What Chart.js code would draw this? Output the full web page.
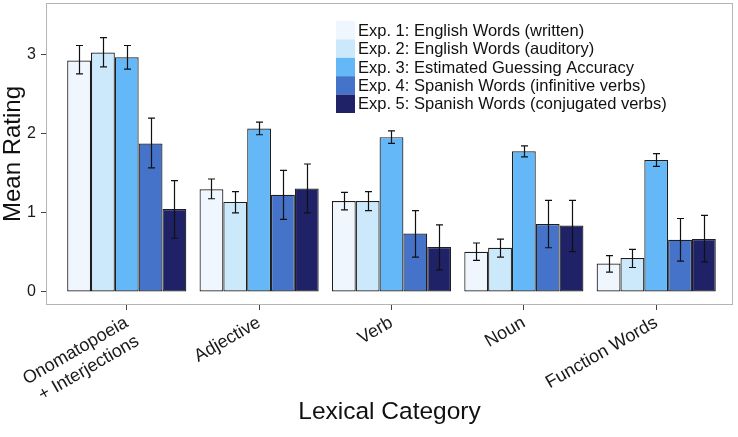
<!DOCTYPE html>
<html>
<head>
<meta charset="utf-8">
<script src="https://cdn.jsdelivr.net/npm/chart.js@4.4.0/dist/chart.umd.min.js"></script>
<style>
  html, body { margin: 0; padding: 0; background: #fff; }
  #wrap { width: 738px; height: 437px; }
</style>
</head>
<body>
<div id="wrap"><canvas id="myChart" width="738" height="437"></canvas></div>
<script>
//data

const categories = [['Onomatopoeia', '+ Interjections'], 'Adjective', 'Verb', 'Noun', 'Function Words'];
const seriesLabels = [
  'Exp. 1: English Words (written)',
  'Exp. 2: English Words (auditory)',
  'Exp. 3: Estimated Guessing Accuracy',
  'Exp. 4: Spanish Words (infinitive verbs)',
  'Exp. 5: Spanish Words (conjugated verbs)'
];
const seriesColors = ['#eff6fe', '#cce8fb', '#64b8f7', '#4473c9', '#1f2267'];

const exp1 = [2.93, 1.30, 1.15, 0.51, 0.36];
const exp1Hi = [3.12, 1.43, 1.26, 0.62, 0.46];
const exp1Lo = [2.76, 1.18, 1.04, 0.40, 0.25];

const exp2 = [3.03, 1.14, 1.15, 0.56, 0.43];
const exp2Hi = [3.22, 1.27, 1.27, 0.67, 0.54];
const exp2Lo = [2.85, 1.00, 1.03, 0.44, 0.31];

const exp3 = [2.97, 2.07, 1.96, 1.78, 1.67];
const exp3Hi = [3.12, 2.15, 2.04, 1.85, 1.75];
const exp3Lo = [2.82, 1.99, 1.88, 1.71, 1.59];

const exp4 = [1.88, 1.23, 0.74, 0.86, 0.66];
const exp4Hi = [2.20, 1.54, 1.03, 1.16, 0.93];
const exp4Lo = [1.57, 0.92, 0.44, 0.56, 0.39];

const exp5 = [1.05, 1.31, 0.57, 0.84, 0.67];
const exp5Hi = [1.41, 1.62, 0.85, 1.16, 0.97];
const exp5Lo = [0.68, 1.00, 0.28, 0.51, 0.38];

const yTicks = [0, 1, 2, 3];

const means = [exp1, exp2, exp3, exp4, exp5];
const highs = [exp1Hi, exp2Hi, exp3Hi, exp4Hi, exp5Hi];
const lows = [exp1Lo, exp2Lo, exp3Lo, exp4Lo, exp5Lo];

const FONT = "'Liberation Sans', Arial, Helvetica, sans-serif";
Chart.defaults.font.family = FONT;
Chart.defaults.color = '#1a1a1a';

//plugins

// grey box round the panel
const frame = {
  id: 'frame',
  afterDatasetsDraw(chart) {
    const a = chart.chartArea;
    const ctx = chart.ctx;
    ctx.save();
    ctx.strokeStyle = '#b5b5b5';
    ctx.lineWidth = 1;
    ctx.strokeRect(a.left + 0.5, a.top + 0.5, a.right - a.left - 1, a.bottom - a.top - 1);
    ctx.restore();
  }
};

// error bars from the low / high arrays
const errorBars = {
  id: 'errorBars',
  afterDatasetsDraw(chart) {
    const ctx = chart.ctx;
    const y = chart.scales.y;
    ctx.save();
    ctx.strokeStyle = '#111';
    ctx.lineWidth = 1.2;
    chart.data.datasets.forEach((ds, i) => {
      const meta = chart.getDatasetMeta(i);
      meta.data.forEach((bar, j) => {
        const top = y.getPixelForValue(ds.hi[j]);
        const bot = y.getPixelForValue(ds.lo[j]);
        const x = Math.round(bar.x) + 0.5;
        ctx.beginPath();
        ctx.moveTo(x, top);
        ctx.lineTo(x, bot);
        ctx.moveTo(x - 3.5, top);
        ctx.lineTo(x + 3.5, top);
        ctx.moveTo(x - 3.5, bot);
        ctx.lineTo(x + 3.5, bot);
        ctx.stroke();
      });
    });
    ctx.restore();
  }
};

// legend inside the panel, keys stacked with no gap
const boxLegend = {
  id: 'boxLegend',
  afterDraw(chart) {
    const ctx = chart.ctx;
    const x0 = 336, y0 = 21, rowH = 18.4, boxW = 19;
    ctx.save();
    ctx.font = '16.5px ' + FONT;
    ctx.textBaseline = 'middle';
    ctx.textAlign = 'left';
    chart.data.datasets.forEach((ds, i) => {
      const yy = y0 + i * rowH;
      ctx.fillStyle = ds.backgroundColor;
      ctx.fillRect(x0, yy, boxW, rowH);
      ctx.fillStyle = '#111';
      ctx.fillText(ds.label, x0 + boxW + 3, yy + rowH / 2 + 1);
    });
    ctx.restore();
  }
};

//config

const data = {
  datasets: means.map((m, i) => ({
    label: seriesLabels[i],
    data: m.map((v, j) => ({ x: j, y: v })),
    hi: highs[i],
    lo: lows[i],
    backgroundColor: seriesColors[i],
    borderColor: '#1e1e1e',
    borderWidth: 1.2,
    borderSkipped: false,
    categoryPercentage: 0.9,
    barPercentage: 1.0
  }))
};

const config = {
  type: 'bar',
  data,
  options: {
    responsive: false,
    animation: false,
    layout: { padding: { top: 3, right: 5, left: 0, bottom: 0 } },
    plugins: {
      legend: { display: false },
      tooltip: { enabled: false }
    },
    scales: {
      x: {
        type: 'linear',
        offset: false,
        min: -0.61,
        max: 4.58,
        afterBuildTicks(scale) {
          scale.ticks = categories.map((c, i) => ({ value: i }));
        },
        afterFit(scale) {
          scale.height = 132;
          scale.paddingLeft = 0;
          scale.paddingRight = 0;
        },
        ticks: {
          stepSize: 1,
          includeBounds: false,
          autoSkip: false,
          minRotation: 30,
          maxRotation: 30,
          padding: 2,
          font: { size: 18 },
          color: '#1a1a1a',
          callback: (v) => categories[v]
        },
        grid: { offset: false, drawOnChartArea: false, tickLength: 5, color: '#444', tickWidth: 1 },
        border: { display: false },
        title: {
          display: true,
          text: 'Lexical Category',
          font: { size: 24.5 },
          color: '#111',
          padding: { top: 0, bottom: 10 }
        }
      },
      y: {
        min: -0.165,
        max: 3.658,
        afterBuildTicks(scale) {
          scale.ticks = yTicks.map(v => ({ value: v }));
        },
        afterFit(scale) {
          scale.width = 46;
          scale.paddingTop = 0;
          scale.paddingBottom = 0;
        },
        ticks: {
          font: { size: 16 },
          color: '#1a1a1a',
          padding: 5
        },
        grid: { drawOnChartArea: false, tickLength: 5, color: '#444', tickWidth: 1 },
        border: { display: false },
        title: {
          display: true,
          text: 'Mean Rating',
          font: { size: 24, lineHeight: 1 },
          color: '#111',
          padding: { top: 1, bottom: 0 }
        }
      }
    }
  },
  plugins: [frame, errorBars, boxLegend]
};

//render

const myChart = new Chart(document.getElementById('myChart'), config);
</script>
</body>
</html>
